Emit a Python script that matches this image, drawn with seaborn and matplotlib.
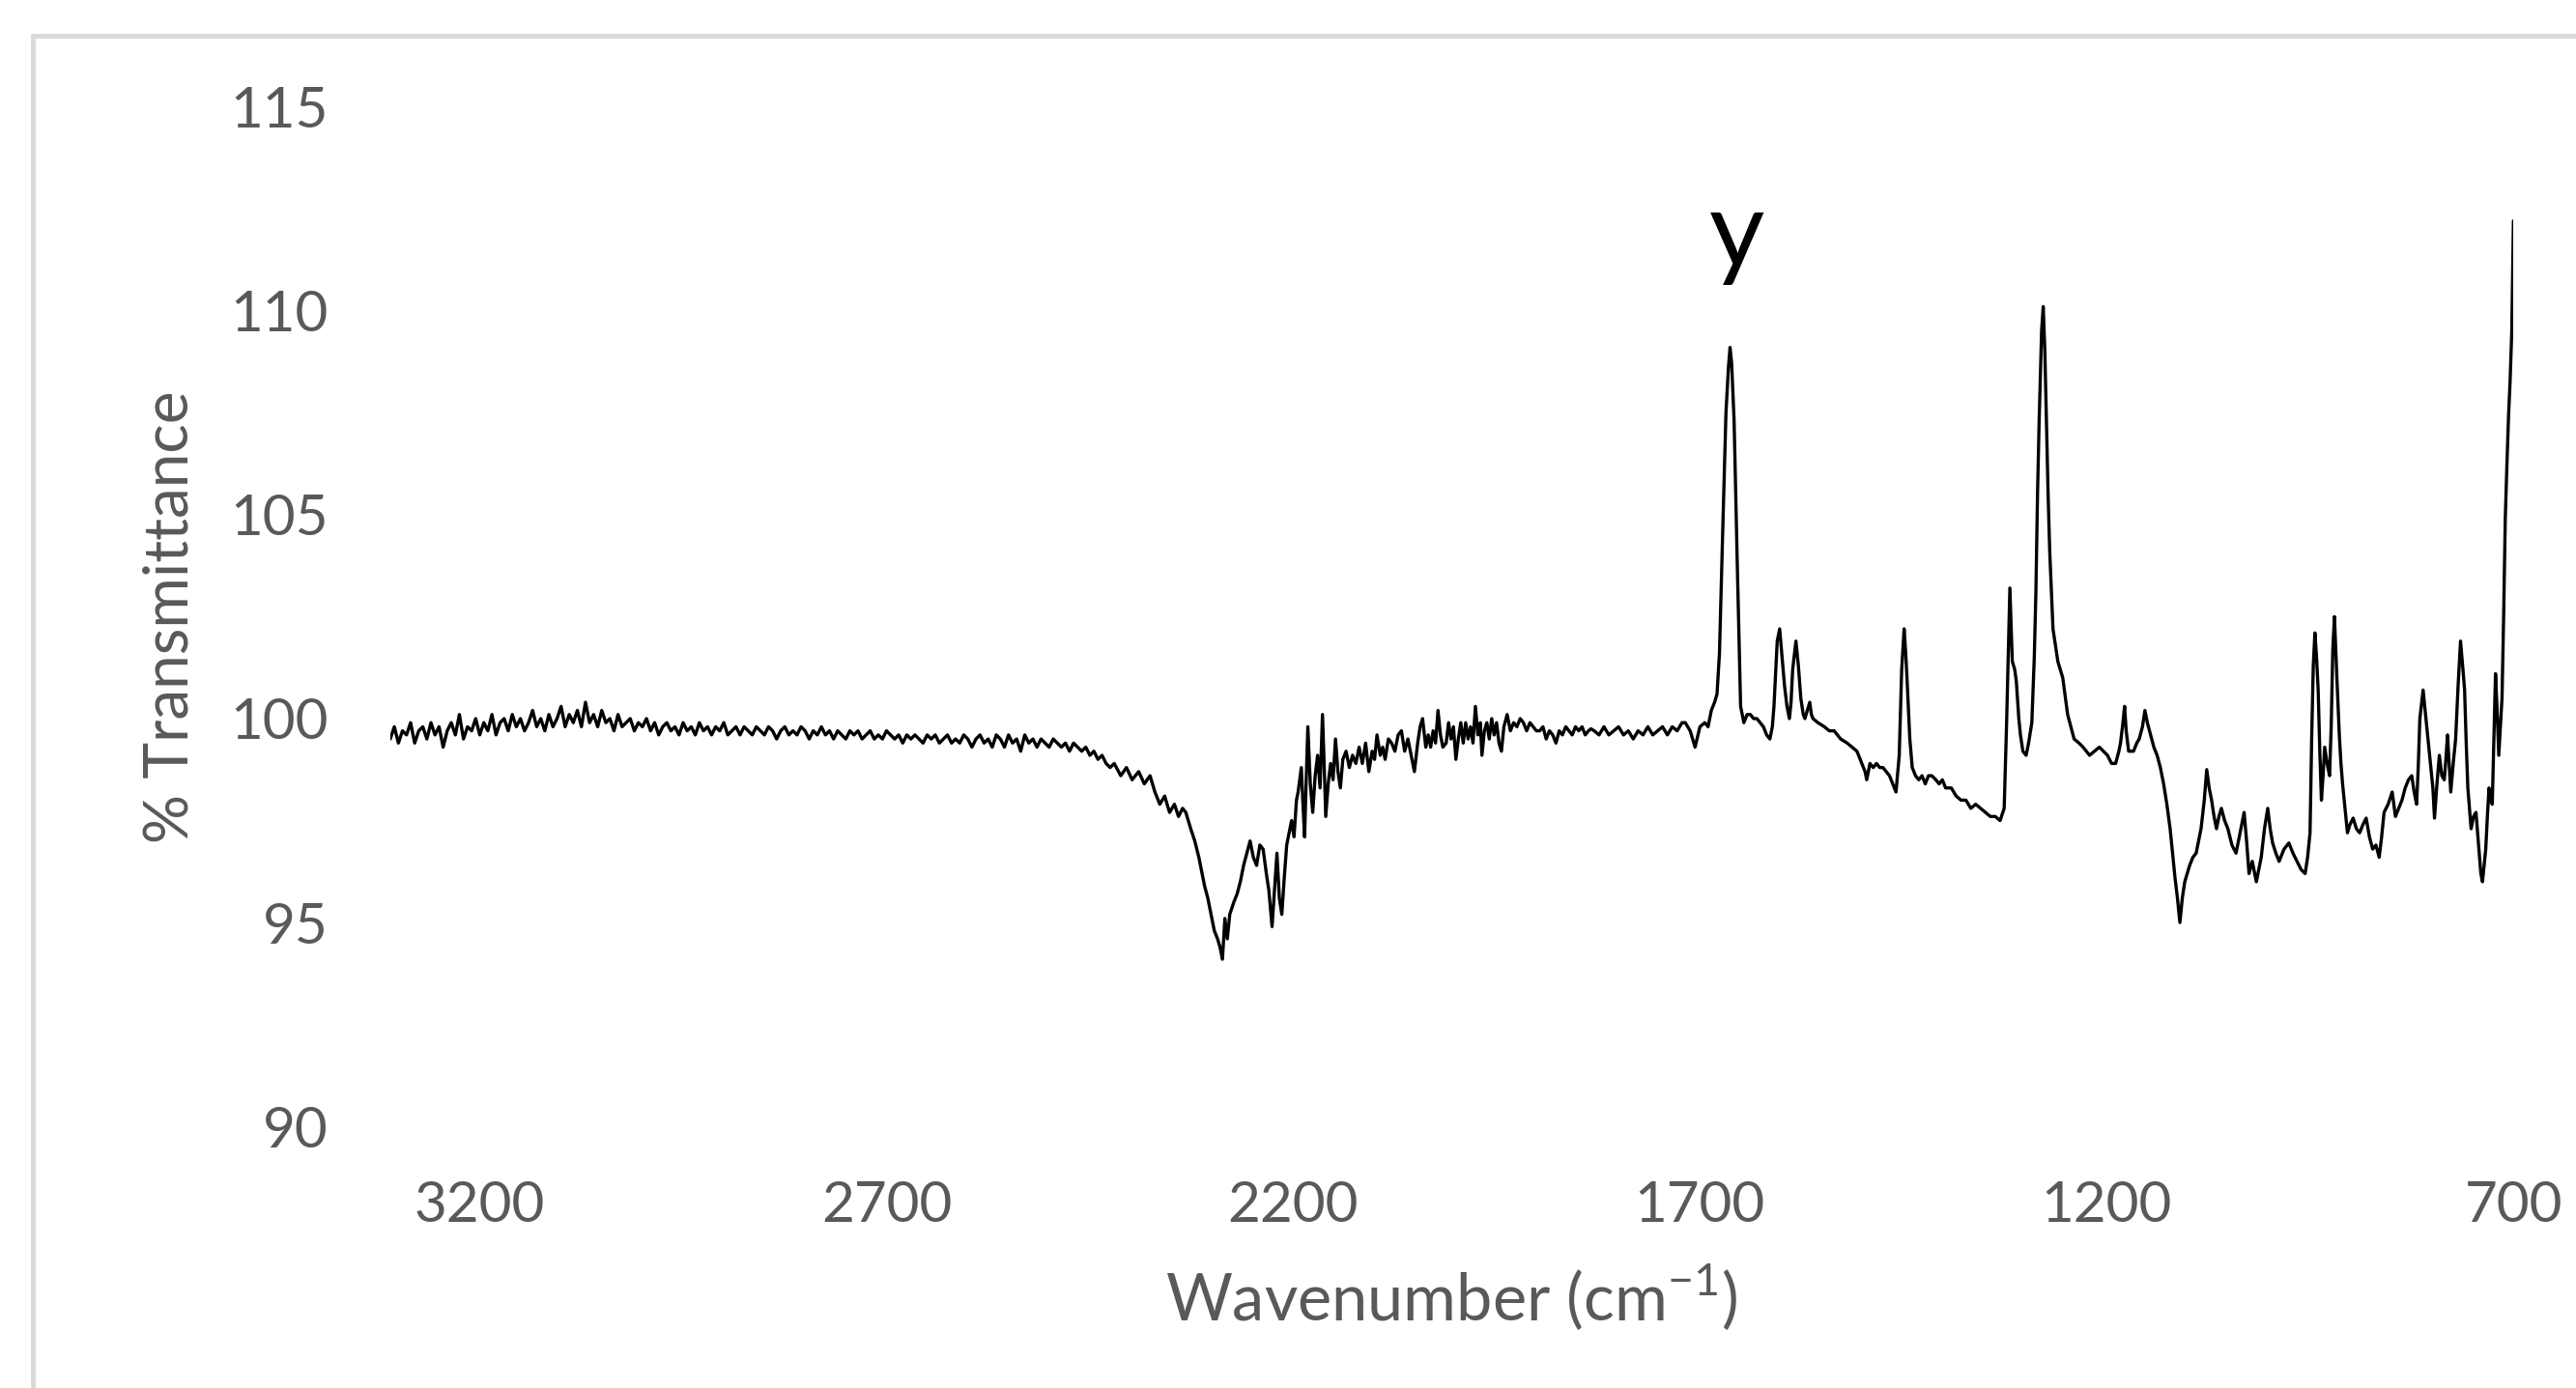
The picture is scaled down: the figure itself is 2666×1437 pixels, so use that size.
"""
FTIR spectrum - % Transmittance vs wavenumber
Excel-style single trace with a peak marker.
"""

import numpy as np
import pandas as pd
import seaborn as sns
import matplotlib.pyplot as plt
from matplotlib.patches import Rectangle


# ── Data ───────────────────────────────────────────────────────────

# flat baseline, one reading every 5 cm-1 from 3310 down to 2425
base_start, base_step = 3310, 5
base_t = [
    99.5, 99.8, 99.4, 99.7, 99.6, 99.9, 99.4, 99.7, 99.8, 99.5,
    99.9, 99.6, 99.8, 99.3, 99.7, 99.9, 99.6, 100.1, 99.5, 99.8,
    99.7, 100.0, 99.6, 99.9, 99.7, 100.1, 99.6, 99.9, 100.0, 99.7,
    100.1, 99.8, 100.0, 99.7, 99.9, 100.2, 99.8, 100.0, 99.7, 100.1,
    99.8, 100.0, 100.3, 99.8, 100.1, 99.9, 100.2, 99.8, 100.4, 99.9,
    100.1, 99.8, 100.2, 99.9, 100.0, 99.7, 100.1, 99.8, 99.9, 100.0,
    99.7, 99.9, 99.8, 100.0, 99.7, 99.9, 99.6, 99.8, 99.9, 99.7,
    99.8, 99.6, 99.9, 99.7, 99.8, 99.6, 99.9, 99.7, 99.8, 99.6,
    99.8, 99.7, 99.9, 99.6, 99.7, 99.8, 99.6, 99.8, 99.7, 99.6,
    99.8, 99.7, 99.6, 99.8, 99.7, 99.5, 99.7, 99.8, 99.6, 99.7,
    99.6, 99.8, 99.7, 99.5, 99.7, 99.6, 99.8, 99.6, 99.7, 99.5,
    99.7, 99.6, 99.5, 99.7, 99.6, 99.7, 99.5, 99.6, 99.7, 99.5,
    99.6, 99.5, 99.7, 99.6, 99.5, 99.6, 99.4, 99.6, 99.5, 99.6,
    99.5, 99.4, 99.6, 99.5, 99.6, 99.4, 99.5, 99.6, 99.4, 99.5,
    99.4, 99.6, 99.5, 99.3, 99.5, 99.6, 99.4, 99.5, 99.3, 99.6,
    99.5, 99.3, 99.6, 99.4, 99.5, 99.2, 99.6, 99.4, 99.5, 99.3,
    99.5, 99.4, 99.3, 99.5, 99.4, 99.3, 99.4, 99.2, 99.4, 99.3,
    99.2, 99.3, 99.1, 99.2, 99.0, 99.1, 98.9, 98.8,
]

# broad absorption around 2300-2150 cm-1
co2_wn = [
    2420, 2412, 2405, 2398, 2390, 2383, 2376, 2370, 2364, 2358,
    2352, 2346, 2341, 2336, 2332, 2326, 2321, 2316, 2313, 2309,
    2305, 2301, 2297, 2293, 2290, 2287, 2284, 2281, 2278, 2273,
    2269, 2265, 2261, 2257, 2253, 2249, 2245, 2241, 2237, 2233,
    2230, 2226, 2223, 2220, 2217, 2214, 2211, 2208, 2205, 2202,
    2199, 2196, 2194, 2190, 2188, 2186, 2184, 2182, 2179, 2176,
    2173, 2170, 2167, 2164, 2162, 2160, 2157, 2154, 2151, 2148,
    2145, 2142, 2139, 2135, 2131, 2127, 2123, 2119, 2115, 2111,
    2107, 2103, 2100, 2097, 2093, 2090, 2087, 2083, 2079, 2075,
    2071, 2067, 2063, 2059, 2055, 2051, 2047, 2044, 2041, 2037,
    2034, 2031, 2028, 2025, 2022, 2019, 2016, 2012, 2009, 2006,
    2003, 2000, 1997, 1994, 1991, 1988, 1985, 1982, 1979, 1976,
    1973, 1970, 1968, 1965, 1962, 1959, 1956, 1953, 1950, 1947,
    1944, 1941, 1937, 1933, 1929, 1925, 1921, 1917, 1913, 1909,
    1905, 1901, 1897, 1893, 1889, 1885, 1881, 1877, 1873, 1869,
    1865, 1861, 1857, 1853, 1849, 1845, 1841, 1837, 1834,
]
co2_t = [
    98.9, 98.6, 98.8, 98.5, 98.7, 98.4, 98.6, 98.2, 97.9, 98.1,
    97.7, 97.9, 97.6, 97.8, 97.7, 97.3, 97.0, 96.6, 96.3, 95.9,
    95.6, 95.2, 94.8, 94.6, 94.4, 94.1, 95.1, 94.6, 95.2, 95.5,
    95.7, 96.0, 96.4, 96.7, 97.0, 96.6, 96.4, 96.9, 96.8, 96.2,
    95.8, 94.9, 95.8, 96.7, 95.6, 95.2, 96.1, 96.9, 97.2, 97.5,
    97.1, 98.0, 98.2, 98.8, 97.9, 97.1, 98.5, 99.8, 98.4, 97.7,
    98.6, 99.1, 98.3, 100.1, 98.9, 97.6, 98.4, 98.9, 98.5, 99.5,
    98.7, 98.3, 99.0, 99.2, 98.8, 99.1, 98.9, 99.3, 98.9, 99.4,
    98.7, 99.2, 99.0, 99.6, 99.1, 99.3, 99.0, 99.5, 99.4, 99.2,
    99.6, 99.7, 99.2, 99.5, 99.1, 98.7, 99.4, 99.8, 100.0, 99.3,
    99.6, 99.3, 99.7, 99.4, 100.2, 99.6, 99.3, 99.4, 99.9, 99.5,
    99.8, 99.0, 99.5, 99.9, 99.4, 99.9, 99.5, 99.8, 99.4, 100.3,
    99.6, 99.9, 99.1, 99.7, 99.9, 99.5, 100.0, 99.6, 99.9, 99.4,
    99.2, 99.8, 100.1, 99.7, 99.9, 99.8, 100.0, 99.9, 99.7, 99.9,
    99.8, 99.7, 99.7, 99.8, 99.5, 99.7, 99.6, 99.4, 99.7, 99.6,
    99.8, 99.7, 99.6, 99.8, 99.7, 99.8, 99.6, 99.7, 99.75,
]

# fingerprint region, 1830 down to 700 cm-1
fp_wn = [
    1830, 1824, 1818, 1812, 1806, 1800, 1794, 1788, 1782, 1776,
    1770, 1764, 1758, 1752, 1746, 1740, 1734, 1728, 1722, 1718,
    1712, 1706, 1700, 1694, 1690, 1686, 1682, 1679, 1676, 1672,
    1668, 1665, 1663, 1661, 1658, 1654, 1650, 1646, 1642, 1638,
    1634, 1630, 1626, 1622, 1618, 1614, 1611, 1609, 1605, 1602,
    1599, 1596, 1593, 1590, 1588, 1586, 1582, 1579, 1576, 1573,
    1571, 1568, 1565, 1563, 1561, 1555, 1547, 1541, 1535, 1527,
    1519, 1513, 1507, 1501, 1497, 1495, 1491, 1487, 1483, 1479,
    1475, 1471, 1467, 1463, 1459, 1455, 1452, 1449, 1447, 1445,
    1442, 1439, 1435, 1431, 1427, 1423, 1419, 1415, 1410, 1406,
    1402, 1398, 1391, 1385, 1379, 1373, 1367, 1361, 1355, 1349,
    1343, 1337, 1331, 1326, 1323, 1319, 1316, 1313, 1311, 1308,
    1306, 1303, 1299, 1296, 1292, 1289, 1287, 1285, 1283, 1280,
    1278, 1276, 1274, 1272, 1270, 1266, 1260, 1254, 1248, 1244,
    1240, 1234, 1229, 1225, 1221, 1215, 1209, 1204, 1199, 1194,
    1189, 1185, 1183, 1180, 1178, 1176, 1173, 1170, 1167, 1163,
    1160, 1156, 1153, 1150, 1146, 1142, 1138, 1134, 1130, 1126,
    1122, 1119, 1116, 1113, 1110, 1107, 1104, 1101, 1098, 1094,
    1090, 1087, 1084, 1080, 1077, 1074, 1071, 1068, 1065, 1062,
    1059, 1055, 1051, 1046, 1041, 1036, 1031, 1028, 1025, 1021,
    1016, 1013, 1010, 1006, 1002, 999, 996, 992, 988, 982,
    976, 971, 966, 961, 956, 953, 950, 948, 946, 944,
    942, 940, 938, 936, 934, 932, 929, 926, 924, 922,
    920, 917, 914, 912, 910, 907, 904, 901, 897, 893,
    889, 885, 881, 877, 873, 869, 865, 862, 859, 854,
    849, 845, 841, 837, 833, 829, 825, 822, 819, 817,
    815, 811, 808, 805, 802, 799, 797, 794, 791, 788,
    785, 783, 781, 779, 777, 774, 771, 768, 765, 762,
    760, 758, 756, 754, 752, 749, 746, 744, 742, 740,
    738, 736, 734, 732, 730, 728, 726, 724, 722, 720,
    718, 716, 714, 712, 710, 708, 706, 704, 702, 701,
    700,
]
fp_t = [
    99.7, 99.6, 99.8, 99.6, 99.7, 99.8, 99.6, 99.7, 99.5, 99.7,
    99.6, 99.8, 99.6, 99.7, 99.8, 99.6, 99.8, 99.7, 99.9, 99.9,
    99.7, 99.3, 99.8, 99.9, 99.8, 100.2, 100.4, 100.6, 101.6, 104.6,
    107.5, 108.6, 109.1, 108.7, 107.3, 103.7, 100.3, 99.9, 100.1, 100.1,
    100.0, 100.0, 99.9, 99.8, 99.6, 99.5, 99.8, 100.3, 101.9, 102.2,
    101.5, 100.8, 100.3, 100.0, 100.4, 101.2, 101.9, 101.3, 100.5, 100.1,
    100.0, 100.2, 100.4, 100.1, 100.0, 99.9, 99.8, 99.7, 99.7, 99.5,
    99.4, 99.3, 99.2, 98.9, 98.7, 98.5, 98.9, 98.8, 98.9, 98.8,
    98.8, 98.7, 98.6, 98.4, 98.2, 99.1, 101.2, 102.2, 101.6, 100.8,
    99.5, 98.8, 98.6, 98.5, 98.6, 98.4, 98.6, 98.6, 98.5, 98.4,
    98.5, 98.3, 98.3, 98.1, 98.0, 98.0, 97.8, 97.9, 97.8, 97.7,
    97.6, 97.6, 97.5, 97.8, 99.9, 103.2, 101.4, 101.2, 100.9, 100.0,
    99.6, 99.2, 99.1, 99.4, 99.9, 101.5, 103.1, 105.5, 107.3, 109.5,
    110.1, 109.0, 107.3, 105.5, 104.1, 102.2, 101.4, 101.0, 100.1, 99.8,
    99.5, 99.4, 99.3, 99.2, 99.1, 99.2, 99.3, 99.2, 99.1, 98.9,
    98.9, 99.2, 99.4, 99.9, 100.3, 99.7, 99.2, 99.2, 99.2, 99.4,
    99.5, 99.8, 100.2, 99.9, 99.6, 99.3, 99.1, 98.8, 98.4, 97.9,
    97.3, 96.7, 96.1, 95.6, 95.0, 95.6, 96.0, 96.2, 96.4, 96.6,
    96.7, 97.0, 97.3, 98.0, 98.75, 98.3, 98.0, 97.6, 97.3, 97.6,
    97.8, 97.5, 97.3, 96.9, 96.7, 97.2, 97.7, 97.0, 96.2, 96.5,
    96.0, 96.3, 96.6, 97.3, 97.8, 97.3, 96.95, 96.7, 96.5, 96.8,
    96.95, 96.7, 96.5, 96.3, 96.2, 96.6, 97.2, 99.5, 101.3, 102.1,
    101.5, 100.7, 99.2, 98.0, 98.6, 99.3, 98.9, 98.6, 99.8, 101.7,
    102.5, 101.0, 99.6, 98.9, 98.4, 97.8, 97.2, 97.4, 97.56, 97.3,
    97.2, 97.4, 97.56, 97.1, 96.8, 96.9, 96.6, 97.1, 97.7, 97.9,
    98.2, 97.6, 97.8, 98.0, 98.3, 98.5, 98.6, 98.2, 97.9, 98.8,
    100.0, 100.7, 100.1, 99.5, 98.9, 98.3, 97.56, 98.4, 99.1, 98.6,
    98.5, 99.0, 99.6, 98.9, 98.2, 98.9, 99.5, 100.8, 101.9, 101.2,
    100.7, 99.4, 98.3, 97.8, 97.3, 97.6, 97.7, 97.2, 96.7, 96.2,
    96.0, 96.4, 96.8, 97.6, 98.3, 98.0, 97.9, 99.5, 101.1, 100.2,
    99.1, 99.8, 100.5, 102.5, 104.9, 106.2, 107.4, 108.3, 109.5, 110.8,
    112.2,
]

X_TICKS = [3200, 2700, 2200, 1700, 1200, 700]
Y_TICKS = [90, 95, 100, 105, 110, 115]
PEAK_LABEL = 'y'
PEAK_LABEL_POS = (1655, 111.07)

assert len(co2_wn) == len(co2_t)
assert len(fp_wn) == len(fp_t)

base_wn = np.arange(base_start, base_start - base_step * len(base_t), -base_step)

spectrum = pd.DataFrame({
    'wavenumber': np.concatenate([base_wn, co2_wn, fp_wn]),
    'transmittance': np.concatenate([base_t, co2_t, fp_t]),
})


# ── Plot ───────────────────────────────────────────────────────────
sns.set_theme(style='white')
plt.rcParams['font.family'] = ['Lato', 'DejaVu Sans']

GREY = '#595959'

fig = plt.figure(figsize=(26.66, 14.37), dpi=100)
ax = fig.add_axes([0.1515, 0.1884, 0.8242, 0.7347])

sns.lineplot(data=spectrum, x='wavenumber', y='transmittance',
             color='black', linewidth=2.4, sort=False, estimator=None, ax=ax)

ax.set_xlim(3310, 700)
ax.set_ylim(90, 115)
ax.set_xticks(X_TICKS)
ax.set_yticks(Y_TICKS)
ax.tick_params(axis='both', length=0, labelsize=42, labelcolor=GREY)
ax.tick_params(axis='x', pad=40)
ax.tick_params(axis='y', pad=46)
sns.despine(ax=ax, left=True, bottom=True)

ax.set_xlabel('Wavenumber (cm$^{\\mathregular{-1}}$)', fontsize=48, color=GREY, va='center')
ax.xaxis.set_label_coords(0.5, -0.167)
ax.set_ylabel('% Transmittance', fontsize=46, color=GREY, va='center')
ax.yaxis.set_label_coords(-0.1033, 0.5)

ax.text(*PEAK_LABEL_POS, PEAK_LABEL, fontsize=80, color='black',
        ha='center', va='baseline')

# light grey chart-area border (cropped at right and bottom in the original)
fig.add_artist(Rectangle((34 / 2666, -0.05), 1.1, 1 - 37 / 1437 + 0.05,
                         transform=fig.transFigure, fill=False,
                         edgecolor='#D9D9D9', linewidth=3.5))

fig.savefig('out.png', dpi=100)
plt.close(fig)
print("Saved -> out.png")
